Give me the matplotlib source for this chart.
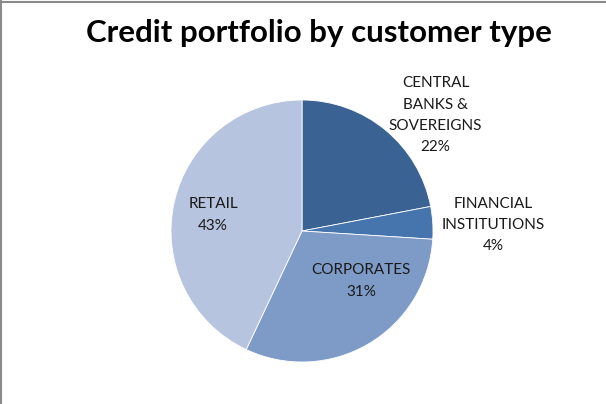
import numpy as np
import matplotlib
matplotlib.use("Agg")
import matplotlib.pyplot as plt

# Credit portfolio shares (%) by customer type
categories = ["CENTRAL\nBANKS &\nSOVEREIGNS", "FINANCIAL\nINSTITUTIONS", "CORPORATES", "RETAIL"]
shares = [22, 4, 31, 43]
colors = ["#3A6394", "#4674AD", "#7E9BC8", "#B7C4E0"]

# label distance from centre (in radii) and angle nudge per slice
label_dist = [1.35, 1.46, 0.59, 0.69]
label_nudge = [-9.5, -1.8, 19.1, 2.4]

W, H = 606, 404
fig = plt.figure(figsize=(W / 100, H / 100), dpi=100)
ax = fig.add_axes([0, 0, 1, 1])

cx, cy, r = 302, H - 231, 131
wedges, _ = ax.pie(shares, colors=colors, startangle=90, counterclock=False,
                   center=(cx, cy), radius=r, frame=True,
                   wedgeprops=dict(edgecolor="white", linewidth=0.6))
ax.set_xlim(0, W)
ax.set_ylim(0, H)
ax.set_aspect("equal")
ax.axis("off")

for w, name, pct, d, nudge in zip(wedges, categories, shares, label_dist, label_nudge):
    mid = np.deg2rad((w.theta1 + w.theta2) / 2 + nudge)
    x = cx + d * r * np.cos(mid)
    y = cy + d * r * np.sin(mid)
    ax.text(x, y, f"{name}\n{pct}%", ha="center", va="center",
            fontsize=11, family="Lato", linespacing=1.65, color="#1a1a1a")

ax.text(W / 2 + 16, H - 33, "Credit portfolio by customer type", ha="center", va="center",
        fontsize=22.5, fontweight="bold", family="Lato", color="black")

# chart frame: top and left edges only
ax.plot([0, W], [H - 1.5, H - 1.5], color="#8a8a8a", lw=1.5, clip_on=False)
ax.plot([0.75, 0.75], [0, H], color="#8a8a8a", lw=1.5, clip_on=False)

fig.savefig("out.png", dpi=100)
